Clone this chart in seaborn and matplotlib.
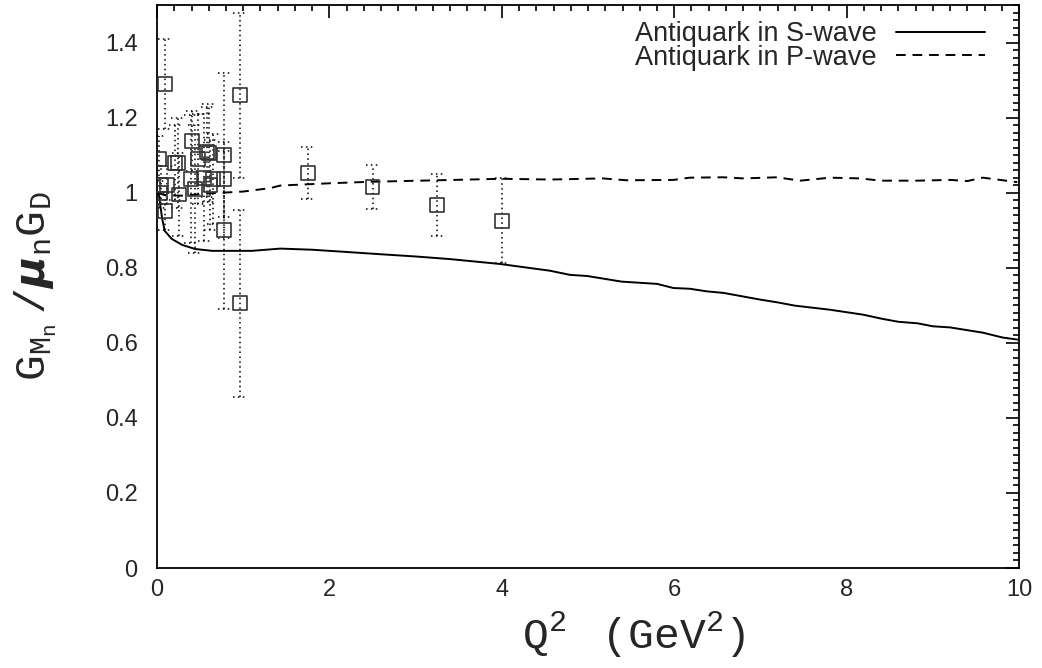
import numpy as np
import pandas as pd
import matplotlib
matplotlib.use("Agg")
import matplotlib.pyplot as plt
from matplotlib.ticker import AutoMinorLocator
import seaborn as sns

# ---- data ----
s_wave_q2 = [0, 0.02, 0.06, 0.09, 0.17, 0.29, 0.44, 0.64, 0.87, 1.1, 1.43, 1.8, 2.2, 2.59, 3.0,
             3.4, 3.98, 4.56, 4.79, 4.99, 5.39, 5.8, 5.99, 6.18, 6.38, 6.57, 7.0, 7.19, 7.4,
             7.81, 8.19, 8.41, 8.6, 8.82, 9.0, 9.2, 9.58, 9.81, 10.0]
s_wave_ratio = [1.0, 0.996, 0.93, 0.898, 0.877, 0.861, 0.85, 0.845, 0.845, 0.845, 0.851, 0.848,
                0.842, 0.836, 0.83, 0.823, 0.81, 0.792, 0.781, 0.778, 0.763, 0.757, 0.746, 0.744,
                0.737, 0.733, 0.715, 0.708, 0.699, 0.688, 0.675, 0.664, 0.656, 0.652, 0.644,
                0.641, 0.627, 0.614, 0.608]

p_wave_q2 = [0, 0.1, 0.3, 0.6, 1.0, 1.31, 1.43, 2.0, 2.47, 3.25, 4.0, 4.56, 5.17, 5.45, 5.99,
             6.18, 6.57, 6.8, 7.19, 7.46, 7.81, 8.16, 8.39, 8.82, 9.2, 9.4, 9.58, 9.98]
p_wave_ratio = [1.0, 0.993, 0.992, 0.998, 1.003, 1.012, 1.019, 1.025, 1.029, 1.033, 1.037, 1.035,
                1.038, 1.033, 1.034, 1.04, 1.041, 1.038, 1.041, 1.032, 1.04, 1.038, 1.032,
                1.032, 1.034, 1.031, 1.04, 1.028]

exp_q2 = [0.02, 0.03, 0.05, 0.09, 0.09, 0.12, 0.21, 0.24, 0.25, 0.39, 0.41, 0.44, 0.48, 0.55,
          0.58, 0.60, 0.62, 0.65, 0.78, 0.78, 0.78, 0.96, 0.96, 1.75, 2.5, 3.25, 4.0]
exp_ratio = [1.09, 1.00, 1.02, 1.29, 0.95, 1.02, 1.08, 1.08, 0.995, 1.036, 1.137, 1.01, 1.09,
             1.04, 1.108, 1.105, 1.02, 1.036, 1.10, 1.036, 0.90, 1.26, 0.705, 1.052, 1.015,
             0.968, 0.925]
exp_err = [0.06, 0.04, 0.05, 0.12, 0.05, 0.05, 0.10, 0.12, 0.11, 0.17, 0.08, 0.17, 0.12, 0.17,
           0.12, 0.13, 0.12, 0.12, 0.22, 0.10, 0.21, 0.22, 0.25, 0.07, 0.058, 0.083, 0.113]

x_ticks = [0, 2, 4, 6, 8, 10]
y_ticks = [0, 0.2, 0.4, 0.6, 0.8, 1.0, 1.2, 1.4]
y_tick_labels = ["0", "0.2", "0.4", "0.6", "0.8", "1", "1.2", "1.4"]

# ---- style ----
sns.set_style("white")
plt.rcParams["font.family"] = ["Liberation Sans", "DejaVu Sans"]
plt.rcParams["mathtext.fontset"] = "custom"
plt.rcParams["mathtext.rm"] = "Liberation Mono"
plt.rcParams["mathtext.it"] = "Liberation Mono"
plt.rcParams["mathtext.bf"] = "Liberation Mono:bold"

fig = plt.figure(figsize=(10.42, 6.68), dpi=100)
ax = fig.add_axes([0.1507, 0.1497, 0.978 - 0.1507, 0.9925 - 0.1497])

df_s = pd.DataFrame({"q2": s_wave_q2, "r": s_wave_ratio})
df_p = pd.DataFrame({"q2": p_wave_q2, "r": p_wave_ratio})
df_e = pd.DataFrame({"q2": exp_q2, "r": exp_ratio, "err": exp_err})

# error bars (dotted)
ax.vlines(df_e["q2"], df_e["r"] - df_e["err"], df_e["r"] + df_e["err"],
          colors="black", linestyles=(0, (1, 2.2)), linewidth=1.1, zorder=2)
cap = 0.075
for sign in (-1, 1):
    ax.hlines(df_e["r"] + sign * df_e["err"], df_e["q2"] - cap, df_e["q2"] + cap,
              colors="black", linestyles=(0, (1, 2.2)), linewidth=1.1, zorder=2)

sns.lineplot(data=df_s, x="q2", y="r", ax=ax, color="black", linewidth=1.4,
             label="Antiquark in S-wave", sort=False, zorder=3)
sns.lineplot(data=df_p, x="q2", y="r", ax=ax, color="black", linewidth=1.4,
             linestyle=(0, (5, 3.5)), label="Antiquark in P-wave", sort=False, zorder=3)
sns.scatterplot(data=df_e, x="q2", y="r", ax=ax, marker="s", s=100,
                facecolors="none", edgecolor="#333333", linewidth=1.2, zorder=4, legend=False)

ax.set_xlim(0, 10)
ax.set_ylim(0, 1.5)
ax.set_xticks(x_ticks)
ax.set_xticklabels([str(t) for t in x_ticks])
ax.set_yticks(y_ticks)
ax.set_yticklabels(y_tick_labels)
ax.xaxis.set_minor_locator(AutoMinorLocator(10))
ax.yaxis.set_minor_locator(AutoMinorLocator(10))
ax.tick_params(which="both", direction="in", top=True, right=True, width=1.2, color="black",
               labelsize=17)
ax.tick_params(which="major", length=9.5)
ax.tick_params(which="minor", length=4.5)
ax.tick_params(axis="x", which="major", pad=8)
ax.tick_params(axis="y", which="major", pad=14)
for sp in ax.spines.values():
    sp.set_linewidth(1.3)
    sp.set_color("black")

ax.set_xlabel(r"$\mathrm{Q}^2\ \ \ \ (\mathrm{GeV}^2)$", fontsize=31)
ax.xaxis.set_label_coords(0.553, -0.12, transform=ax.transAxes)
ax.xaxis.label.set_va("center")
ax.set_ylabel(r"$\mathrm{G}_{\mathrm{M}_\mathrm{n}}\ /\boldsymbol{\mu}_\mathrm{n}\mathrm{G}_\mathrm{D}$",
              fontsize=31, labelpad=33)

leg = ax.legend(loc="upper right", bbox_to_anchor=(0.9745, 0.993), frameon=False,
                markerfirst=False, fontsize=19.5, handlelength=3.3, handletextpad=0.7,
                borderaxespad=0.25, labelspacing=-0.09, borderpad=0.2)

fig.savefig("out.png", dpi=100)
